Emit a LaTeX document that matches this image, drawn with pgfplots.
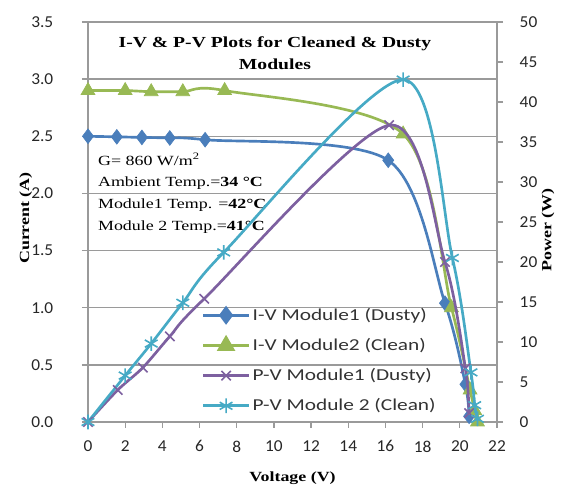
\documentclass[border=0pt]{standalone}
\usepackage{fontspec}
\setmainfont[FakeStretch=1.28]{Liberation Serif}
\newfontfamily\calibri[FakeStretch=1.28]{Carlito}
\newfontfamily\calibrit[FakeStretch=1.04]{Carlito}
\usepackage{pgfplots}
\pgfplotsset{compat=1.18}

\definecolor{xlblue}{HTML}{4A7EBB}
\definecolor{xlgreen}{HTML}{98B954}
\definecolor{xlpurple}{HTML}{7D60A0}
\definecolor{xlcyan}{HTML}{46AAC5}
\definecolor{gridgray}{HTML}{9A9A9A}

\pgfplotsset{
  common/.style={
    scale only axis, width=306.75pt, height=300pt,
    xmin=0, xmax=22, ymin=0,
    axis line style={-, gridgray, line width=1pt},
    tick align=outside,
    tick style={gridgray, line width=1pt},
    major tick length=4.5pt,
    ticklabel style={font=\calibrit\fontsize{12.5}{15}\selectfont, text=black!85},
    /pgf/number format/assume math mode=true,
    label style={font=\bfseries\fontsize{10.5}{12}\selectfont},
  },
  ser/.style={line width=2pt, smooth, tension=0.5},
  every axis legend/.append style={legend image code/.code={
    \draw[mark repeat=2, mark phase=2] plot coordinates {(0pt,0pt) (17pt,0pt) (34pt,0pt)};}},
}

\begin{document}
\begin{tikzpicture}
\begin{axis}[common, name=ax,
  axis x line*=bottom, axis y line*=left,
  ymax=3.5, ytick={0,0.5,...,3.5}, xtick={0,2,...,22},
  yticklabel style={xshift=-18pt, /pgf/number format/.cd, fixed, fixed zerofill, precision=1},
  xticklabel style={yshift=-6pt},
  ymajorgrids, grid style={gridgray, line width=1pt},
  xlabel={Voltage (V)}, ylabel={Current (A)},
  xlabel style={at={(axis description cs:0.5,-0.14)}, anchor=center},
  ylabel style={at={(axis description cs:-0.152,0.51)}, anchor=center},
  clip=false,
]
% I-V Module1 (Dusty)
\addplot[xlblue, ser, mark=diamond*, mark size=5.5pt, mark options={solid, fill=xlblue, line width=0.5pt}]
  coordinates {(0,2.50) (1.55,2.495) (2.9,2.49) (4.4,2.485) (6.3,2.47) (16.15,2.29) (19.2,1.04) (20.3,0.33) (20.5,0.05)};
% I-V Module2 (Clean)
\addplot[xlgreen, ser, mark=triangle*, mark size=6pt, mark options={solid, fill=xlgreen, line width=0.5pt}]
  coordinates {(0,2.90) (2.0,2.90) (3.4,2.89) (5.1,2.89) (7.35,2.90) (16.95,2.52) (19.55,1.0) (20.55,0.28) (20.8,0.1) (20.95,0.0)};

\node[font=\bfseries\fontsize{11.5}{16.5}\selectfont, align=center] at (rel axis cs:0.457,0.923)
  {I-V \& P-V Plots for Cleaned \& Dusty\\Modules};
\node[anchor=north west, align=left, inner sep=0pt, font=\fontsize{10.5}{16.3}\selectfont] at (rel axis cs:0.024,0.672)
  {G= 860 W/m\textsuperscript{2}\\Ambient Temp.=\textbf{34 °C}\\Module1 Temp. =\textbf{42°C}\\Module 2 Temp.=\textbf{41°C}};
\end{axis}

\begin{axis}[common,
  axis y line*=right, axis x line=none,
  ymax=50, ytick={0,5,...,50},
  yticklabel style={xshift=9pt},
  ylabel={Power (W)},
  ylabel style={at={(axis description cs:1.125,0.48)}, anchor=center},
  legend style={at={(rel axis cs:0.275,0.012)}, anchor=south west, draw=none, fill=none,
    font=\calibri\fontsize{12.5}{14}\selectfont, text=black!80, row sep=8pt, inner sep=1pt},
  legend cell align=left,
]
\addlegendimage{xlblue, ser, mark=diamond*, mark size=5.5pt, mark options={solid, fill=xlblue}}
\addlegendentry{I-V Module1 (Dusty)}
\addlegendimage{xlgreen, ser, mark=triangle*, mark size=6pt, mark options={solid, fill=xlgreen}}
\addlegendentry{I-V Module2 (Clean)}
% P-V Module1 (Dusty)
\addplot[xlpurple, ser, mark=x, mark size=5pt, mark options={solid, line width=1.2pt}]
  coordinates {(0,0) (1.6,4.0) (2.95,6.8) (4.4,10.7) (6.25,15.4) (16.2,37.1) (19.2,20.0) (20.3,6.7) (20.5,1.1)};
\addlegendentry{P-V Module1 (Dusty)}
% P-V Module 2 (Clean)
\addplot[xlcyan, ser, mark=asterisk, mark size=5.5pt, mark options={solid, line width=1.2pt}]
  coordinates {(0,0) (2.0,5.8) (3.4,9.8) (5.1,14.9) (7.3,21.2) (16.95,42.8) (19.6,20.5) (20.6,6.2) (20.8,2.1) (20.95,0.4)};
\addlegendentry{P-V Module 2 (Clean)}
\end{axis}

\pgfresetboundingbox
\useasboundingbox ([shift={(-66pt,-53.25pt)}]ax.south west) rectangle ([shift={(50.25pt,16.5pt)}]ax.north east);
\end{tikzpicture}
\end{document}
